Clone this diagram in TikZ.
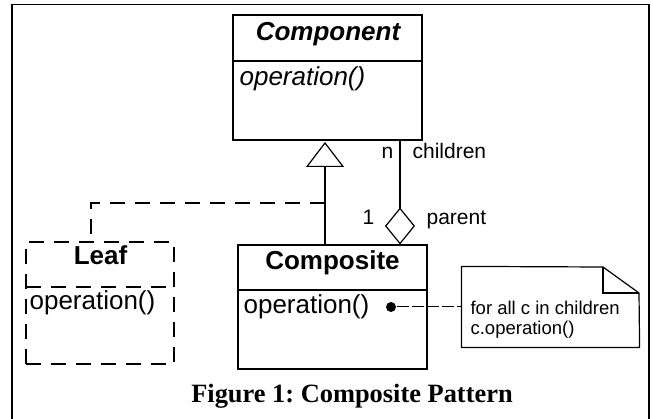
\documentclass[tikz,border=0pt]{standalone}
\usepackage{fontspec}
\setmainfont{Liberation Sans}
\newfontfamily\captionfont{Liberation Serif}
\usetikzlibrary{arrows.meta}
\frenchspacing

\begin{document}
\begin{tikzpicture}[x=1pt,y=-1pt,
  line width=1.2pt,
  classbox/.style={draw, inner sep=0pt},
  txt/.style={inner sep=0pt},
  bigtext/.style={txt, font=\fontsize{26}{31}\selectfont},
  labeltext/.style={txt, font=\fontsize{21}{25}\selectfont},
  notetext/.style={txt, font=\fontsize{18.5}{20}\selectfont},
  leafdash/.style={dash pattern=on 15pt off 10pt}]
\useasboundingbox (0,0) rectangle (653,419);

% outer frame
\draw[line width=1.6pt] (12,419) -- (12,4.7) -- (649,4.7) -- (649,419);

% Component (abstract class)
\node[classbox, minimum width=189pt, minimum height=125pt] (comp) at (327.5,77.5) {};
\coordinate (compdivL) at (233,61);
\coordinate (compdivR) at (422,61);
\draw (compdivL) -- (compdivR);
\node[bigtext, anchor=base, font=\fontsize{26}{31}\selectfont\bfseries\itshape] (compname) at (328,41) {Component};
\node[bigtext, anchor=base west, font=\fontsize{26}{31}\selectfont\itshape] (compop) at (239,86) {operation()};

% Composite
\node[classbox, minimum width=189pt, minimum height=124pt] (compo) at (332.5,307) {};
\coordinate (compodivL) at (238,290);
\coordinate (compodivR) at (427,290);
\draw (compodivL) -- (compodivR);
\node[bigtext, anchor=base, font=\fontsize{26}{31}\selectfont\bfseries] (componame) at (332.5,270) {Composite};
\node[bigtext, anchor=base west] (compoop) at (243,314) {operation()};
\node[circle, fill, inner sep=0pt, minimum size=10pt] (dot) at (391,307) {};

% Leaf (dashed)
\node[classbox, leafdash, minimum width=148pt, minimum height=122pt] (leaf) at (100,303) {};
\coordinate (leafdivL) at (26,287);
\coordinate (leafdivR) at (174,287);
\draw[leafdash] (leafdivL) -- (leafdivR);
\node[bigtext, anchor=base, font=\fontsize{26}{31}\selectfont\bfseries] (leafname) at (100.5,265) {Leaf};
\node[bigtext, anchor=base west] (leafop) at (29,310) {operation()};

% generalisation
\coordinate (genbot) at (325,245);
\coordinate (gentop) at (325,142);
\draw[-{Triangle[open, length=25pt, width=38pt, line width=1.2pt]}] (genbot) -- (gentop);
\coordinate (genjoin) at (325,203);
\coordinate (leafjoin) at (91,242);
\draw[leafdash] (genjoin) -| (leafjoin);

% aggregation
\coordinate (aggbot) at (400,244.5);
\coordinate (aggtop) at (400,140);
\draw[{Diamond[open, length=37pt, width=30pt, line width=1.2pt]}-] (aggbot) -- (aggtop);
\node[labeltext, anchor=base] (mult n) at (387.5,159) {n};
\node[labeltext, anchor=base west] (rolechild) at (412,159) {children};
\node[labeltext, anchor=base east] (mult one) at (375,225) {1};
\node[labeltext, anchor=base west] (roleparent) at (426,225) {parent};

% note
\node[inner sep=0pt, minimum width=177pt, minimum height=80pt] (note) at (550.5,307) {};
\coordinate (foldA) at (603,267);
\coordinate (foldB) at (639,293);
\coordinate (foldC) at (603,293);
\draw (note.south west) -- (note.north west) -- (foldA) -- (foldB) -- (note.south east) -- cycle;
\draw (foldA) -- (foldC) -- (foldB);
\node[notetext, anchor=base west] (noteA) at (470,315) {for all c in children};
\node[notetext, anchor=base west] (noteB) at (470,335) {c.operation()};
\draw[line width=1pt, dash pattern=on 12pt off 3pt] (dot) -- (note.west);

% caption
\node[txt, anchor=base, font=\captionfont\bfseries\fontsize{26.4}{30}\selectfont] (caption) at (352,402) {Figure 1: Composite Pattern};
\end{tikzpicture}
\end{document}
